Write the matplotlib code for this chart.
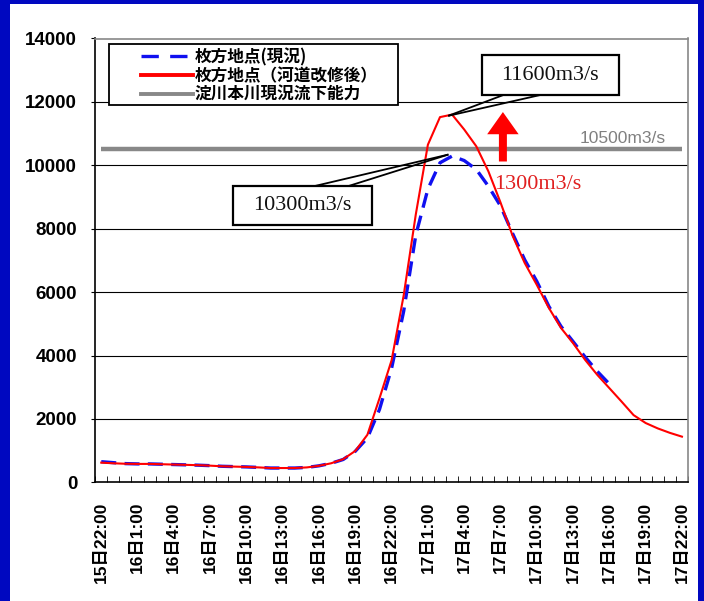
import matplotlib
matplotlib.use("Agg")
import matplotlib.pyplot as plt
from matplotlib.patches import Rectangle, FancyArrow
from matplotlib.lines import Line2D

# ---- data ----
times = ["15日22:00", "15日23:00"] + [f"16日{h}:00" for h in range(0, 24)] + [f"17日{h}:00" for h in range(0, 23)]
current = [650, 620, 590, 580, 580, 570, 560, 550, 540, 525, 505, 495, 485, 470, 450, 450, 450, 470, 520, 600,
           720, 980, 1400, 2300, 3600, 5400, 7800, 9250, 10080, 10290, 10150, 9870, 9340, 8720, 7850, 7020,
           6340, 5550, 4920, 4440, 3950, 3500, 3100]
improved = [620, 600, 585, 580, 580, 570, 560, 550, 540, 525, 505, 495, 485, 470, 450, 450, 450, 470, 520, 600,
            730, 990, 1500, 2650, 3850, 5900, 8450, 10650, 11520, 11600, 11130, 10600, 9810, 8830, 7780, 6920,
            6230, 5500, 4870, 4390, 3860, 3390, 2970, 2550, 2120, 1870, 1700, 1560, 1440]
capacity = [10500] * len(times)
labels = ["枚方地点(現況)", "枚方地点（河道改修後）", "淀川本川現況流下能力"]
yticks = list(range(0, 14001, 2000))

W, H = 704, 601
fig = plt.figure(figsize=(W / 100, H / 100), dpi=100)
fig.patch.set_facecolor("white")

def fx(px):
    return px / W

def fy(py):
    return 1 - py / H

ax = fig.add_axes([fx(95.2), fy(482.3), fx(688) - fx(95.2), fy(38.5) - fy(482.3)])
ax.set_xlim(-0.5, len(times) - 0.5)
ax.set_ylim(0, 14000)

xs = list(range(len(times)))
for y in yticks[1:-1]:
    ax.axhline(y, color="black", lw=0.8, zorder=1)

ax.plot(xs, capacity, color="#888888", lw=3.2, zorder=2, solid_capstyle="butt")
ax.plot(xs[:len(current)], current, color="#1010F0", lw=2.4, dashes=(4.5, 2.5), zorder=3)
ax.plot(xs, improved, color="#FF0000", lw=1.5, zorder=4)

# axes styling
for s in ["top", "right"]:
    ax.spines[s].set_color("#888888")
    ax.spines[s].set_linewidth(1.2)
for s in ["left", "bottom"]:
    ax.spines[s].set_color("black")
    ax.spines[s].set_linewidth(1.2)

tick_font = dict(family=["Liberation Sans", "Noto Sans CJK JP"], weight="bold")
ax.set_yticks(yticks)
ax.set_yticklabels([str(v) for v in yticks], fontsize=13.5, **tick_font)
ax.tick_params(axis="y", direction="out", length=3, pad=10, color="black")

ax.set_xticks(xs[::3])
ax.set_xticklabels(times[::3], rotation=90, fontsize=12.5, **tick_font)
ax.set_xticks([i - 0.5 for i in range(len(times) + 1)], minor=True)
ax.tick_params(axis="x", which="major", length=0, pad=14)
ax.tick_params(axis="x", which="minor", direction="in", length=4, color="black")

# legend box
fig.add_artist(Rectangle((fx(109), fy(105)), fx(398) - fx(109), fy(44) - fy(105),
                         transform=fig.transFigure, facecolor="white", edgecolor="black", lw=1.3, zorder=10))
handles = [Line2D([], [], color="#1010F0", lw=2.4, dashes=(5.2, 3.4)),
           Line2D([], [], color="#FF0000", lw=2.8),
           Line2D([], [], color="#888888", lw=2.8)]
leg = fig.legend(handles, labels, loc="upper left", bbox_to_anchor=(fx(141), fy(48)),
                 bbox_transform=fig.transFigure, frameon=False, borderpad=0, borderaxespad=0,
                 handlelength=3.1, handletextpad=0.12, labelspacing=0.05,
                 prop=dict(family=["Noto Sans CJK JP"], weight="bold", size=12))
leg.set_zorder(11)

# annotation boxes with callouts
def callout_box(x0, x1, y0, y1, text, tip, bases):
    ax.add_patch(Rectangle((x0, y0), x1 - x0, y1 - y0, facecolor="white", edgecolor="black",
                           lw=1.6, zorder=8))
    ax.text((x0 + x1) / 2, (y0 + y1) / 2, text, ha="center", va="center", fontsize=16,
            family=["Liberation Serif"], color="#111111", zorder=9)
    for bx, by in bases:
        ax.plot([bx, tip[0]], [by, tip[1]], color="black", lw=1.3, zorder=7, solid_capstyle="butt")

callout_box(31.44, 42.81, 12215, 13470, "11600m3/s", (28.68, 11560),
            [(33.22, 12215), (36.26, 12215)])
callout_box(10.93, 22.36, 8130, 9340, "10300m3/s", (28.7, 10340),
            [(17.58, 9340), (20.39, 9340)])

ax.text(43.1, 10860, "10500m3/s", ha="center", va="center", fontsize=12.5,
        family=["Liberation Sans"], color="#808080", zorder=6)
ax.text(32.5, 9390, "1300m3/s", ha="left", va="center", fontsize=16,
        family=["Liberation Serif"], color="#E02020", zorder=6)
ax.add_patch(FancyArrow(33.2, 10120, 0, 1560, width=0.66, head_width=2.6, head_length=700,
                        length_includes_head=True, color="#FF0000", lw=0, zorder=6))

# blue frame
blue = "#0008C0"
for (x0, y0, x1, y1) in [(0, 0, 10, H), (0, 0, W, 4), (698, 0, W, H)]:
    fig.add_artist(Rectangle((fx(x0), fy(y1)), fx(x1) - fx(x0), fy(y0) - fy(y1),
                             transform=fig.transFigure, facecolor=blue, edgecolor="none", zorder=20))

fig.savefig("out.png", dpi=100, facecolor="white")
